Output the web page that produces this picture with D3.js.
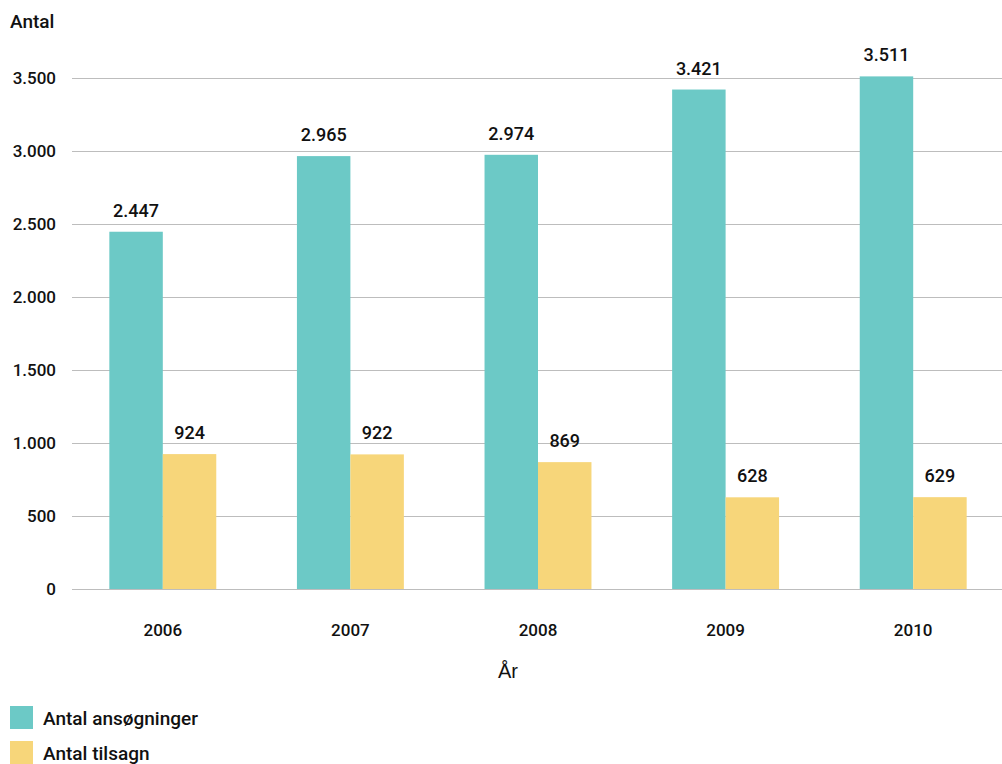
<!DOCTYPE html>
<html><head><meta charset="utf-8">
<script src="https://cdn.jsdelivr.net/npm/d3@7"></script>
<style>body{margin:0;background:#fff;} text{font-family:Roboto,"DejaVu Sans",sans-serif;}</style>
</head><body>
<svg id="c" width="1002" height="764"></svg>
<script>
const years = ["2006","2007","2008","2009","2010"];
const ansogninger = [2447, 2965, 2974, 3421, 3511];
const tilsagn = [924, 922, 869, 628, 629];
const yTicks = [0, 500, 1000, 1500, 2000, 2500, 3000, 3500];
const seriesNames = ["Antal ansøgninger", "Antal tilsagn"];
const colors = ["#6cc9c6", "#f7d67a"];

const svg = d3.select("#c");
const fmt = v => d3.format(",")(v).replace(/,/g, ".");
const y = d3.scaleLinear().domain([0, 3500]).range([589, 78]);
const x0 = d3.scaleBand().domain(years).range([69, 1007]).paddingInner(0.43).paddingOuter(0.215);
const x1 = d3.scaleBand().domain([0, 1]).range([0, x0.bandwidth()]);

svg.append("g").selectAll("line").data(yTicks).join("line")
  .attr("x1", 72).attr("x2", 1002)
  .attr("y1", d => Math.round(y(d)) + 0.5).attr("y2", d => Math.round(y(d)) + 0.5)
  .attr("stroke", "#bdbdbd").attr("stroke-width", 1.2);

svg.append("g").selectAll("text").data(yTicks).join("text")
  .attr("x", 56).attr("y", d => y(d)).attr("dy", "0.35em")
  .attr("text-anchor", "end").attr("font-size", 17).attr("font-weight", 500).attr("fill", "#111")
  .text(d => fmt(d));

svg.append("text").attr("x", 10).attr("y", 28).attr("font-size", 19).attr("font-weight", 500).attr("fill", "#111").text("Antal");

const series = [ansogninger, tilsagn];
series.forEach((vals, si) => {
  const g = svg.append("g");
  g.selectAll("rect").data(years).join("rect")
    .attr("x", d => x0(d) + x1(si)).attr("width", x1.bandwidth())
    .attr("y", (d, i) => y(vals[i])).attr("height", (d, i) => y(0) - y(vals[i]))
    .attr("fill", colors[si]);
  g.selectAll("text").data(years).join("text")
    .attr("x", d => x0(d) + x1(si) + x1.bandwidth() / 2)
    .attr("y", (d, i) => y(vals[i]) - 15)
    .attr("text-anchor", "middle").attr("font-size", 18).attr("font-weight", 500).attr("fill", "#111")
    .text((d, i) => fmt(vals[i]));
});

svg.append("g").selectAll("text").data(years).join("text")
  .attr("x", d => x0(d) + x0.bandwidth() / 2).attr("y", 630).attr("dy", "0.35em")
  .attr("text-anchor", "middle").attr("font-size", 17).attr("font-weight", 500).attr("fill", "#111")
  .text(d => d);

svg.append("text").attr("x", 508).attr("y", 671).attr("dy", "0.35em").attr("text-anchor", "middle")
  .attr("font-size", 20).attr("fill", "#111").style("font-family", "'Liberation Sans',Arial,sans-serif").text("År");

const lg = svg.append("g");
seriesNames.forEach((n, i) => {
  lg.append("rect").attr("x", 10).attr("y", 706 + i * 35).attr("width", 23).attr("height", 23).attr("fill", colors[i]);
  lg.append("text").attr("x", 43).attr("y", 718 + i * 35).attr("dy", "0.35em").attr("font-size", 19).attr("font-weight", 500).attr("fill", "#111").text(n);
});
</script>
</body></html>
